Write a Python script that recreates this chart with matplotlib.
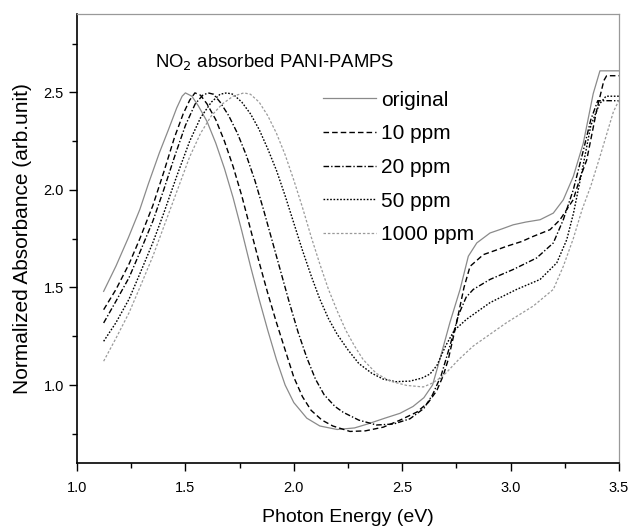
import matplotlib.pyplot as plt
from matplotlib.ticker import MultipleLocator

plt.rcParams['font.family'] = ['Liberation Sans', 'DejaVu Sans']

# photon energy (eV) / normalized absorbance
x_orig = [1.123, 1.18, 1.237, 1.29, 1.329, 1.38, 1.421, 1.46, 1.485, 1.50,
          1.53, 1.56, 1.60, 1.64, 1.68, 1.72, 1.76, 1.80, 1.84, 1.88,
          1.92, 1.96, 2.00, 2.06, 2.12, 2.2, 2.28, 2.34, 2.42, 2.49,
          2.55, 2.6, 2.64, 2.674, 2.72, 2.767, 2.805, 2.844, 2.905, 2.96,
          3.012, 3.07, 3.136, 3.197, 3.243, 3.289, 3.335, 3.381, 3.412, 3.5]
y_orig = [1.480, 1.610, 1.755, 1.900, 2.030, 2.190, 2.306, 2.420, 2.480, 2.497,
          2.480, 2.430, 2.350, 2.240, 2.110, 1.960, 1.790, 1.610, 1.440, 1.280,
          1.130, 1.000, 0.910, 0.830, 0.790, 0.772, 0.780, 0.800, 0.830, 0.855,
          0.890, 0.935, 1.000, 1.133, 1.320, 1.490, 1.660, 1.728, 1.779, 1.800,
          1.821, 1.835, 1.847, 1.881, 1.949, 2.068, 2.238, 2.493, 2.610, 2.610]

x_10 = [1.123, 1.18, 1.24, 1.29, 1.35, 1.40, 1.45, 1.49, 1.52, 1.544,
        1.57, 1.60, 1.64, 1.68, 1.72, 1.76, 1.80, 1.84, 1.88, 1.92,
        1.96, 2.00, 2.04, 2.08, 2.13, 2.18, 2.259, 2.33, 2.413, 2.49,
        2.567, 2.62, 2.659, 2.69, 2.713, 2.751, 2.785, 2.813, 2.874, 2.93,
        2.982, 3.05, 3.105, 3.182, 3.228, 3.289, 3.32, 3.351, 3.397, 3.43,
        3.443, 3.5]
y_10 = [1.386, 1.490, 1.620, 1.750, 1.920, 2.090, 2.270, 2.390, 2.460, 2.497,
        2.485, 2.440, 2.360, 2.250, 2.120, 1.970, 1.800, 1.630, 1.470, 1.320,
        1.180, 1.040, 0.940, 0.870, 0.820, 0.790, 0.762, 0.765, 0.784, 0.820,
        0.861, 0.910, 0.970, 1.050, 1.133, 1.320, 1.500, 1.608, 1.668, 1.690,
        1.711, 1.735, 1.762, 1.796, 1.847, 1.950, 2.060, 2.153, 2.408, 2.560,
        2.585, 2.585]

x_20 = [1.123, 1.18, 1.24, 1.29, 1.35, 1.40, 1.45, 1.50, 1.545, 1.58,
        1.605, 1.63, 1.66, 1.70, 1.74, 1.78, 1.82, 1.86, 1.90, 1.94,
        1.98, 2.02, 2.06, 2.10, 2.14, 2.19, 2.228, 2.30, 2.382, 2.46,
        2.536, 2.60, 2.64, 2.68, 2.72, 2.76, 2.795, 2.828, 2.905, 3.012,
        3.12, 3.197, 3.243, 3.289, 3.335, 3.37, 3.402, 3.5]
y_20 = [1.318, 1.430, 1.550, 1.680, 1.840, 2.000, 2.170, 2.330, 2.440, 2.485,
        2.497, 2.490, 2.450, 2.380, 2.290, 2.180, 2.050, 1.900, 1.740, 1.580,
        1.420, 1.270, 1.140, 1.030, 0.950, 0.890, 0.860, 0.820, 0.795, 0.800,
        0.827, 0.880, 0.950, 1.050, 1.200, 1.360, 1.450, 1.490, 1.541, 1.592,
        1.651, 1.728, 1.847, 2.000, 2.200, 2.360, 2.457, 2.457]

x_50 = [1.123, 1.18, 1.24, 1.29, 1.35, 1.40, 1.46, 1.52, 1.57, 1.62,
        1.66, 1.69, 1.72, 1.76, 1.80, 1.84, 1.88, 1.92, 1.96, 2.00,
        2.04, 2.08, 2.12, 2.16, 2.20, 2.25, 2.30, 2.36, 2.413, 2.47,
        2.536, 2.59, 2.628, 2.66, 2.70, 2.74, 2.797, 2.905, 3.028, 3.136,
        3.213, 3.259, 3.29, 3.33, 3.37, 3.41, 3.44, 3.5]
y_50 = [1.224, 1.320, 1.440, 1.570, 1.730, 1.880, 2.070, 2.250, 2.370, 2.450,
        2.490, 2.497, 2.490, 2.450, 2.390, 2.310, 2.210, 2.100, 1.970, 1.830,
        1.690, 1.560, 1.440, 1.340, 1.260, 1.180, 1.110, 1.060, 1.030, 1.017,
        1.020, 1.035, 1.056, 1.100, 1.200, 1.280, 1.337, 1.422, 1.490, 1.541,
        1.626, 1.745, 1.880, 2.100, 2.330, 2.440, 2.480, 2.480]

x_1000 = [1.123, 1.18, 1.24, 1.29, 1.35, 1.40, 1.46, 1.52, 1.57, 1.62,
          1.67, 1.72, 1.77, 1.80, 1.84, 1.88, 1.92, 1.96, 2.00, 2.04,
          2.08, 2.12, 2.16, 2.20, 2.24, 2.28, 2.32, 2.38, 2.444, 2.52,
          2.597, 2.64, 2.68, 2.705, 2.76, 2.828, 2.982, 3.105, 3.197, 3.243,
          3.289, 3.33, 3.37, 3.412, 3.474, 3.5]
y_1000 = [1.122, 1.240, 1.370, 1.500, 1.660, 1.810, 1.990, 2.170, 2.290, 2.380,
          2.440, 2.480, 2.497, 2.490, 2.450, 2.380, 2.290, 2.180, 2.050, 1.910,
          1.760, 1.620, 1.490, 1.380, 1.280, 1.200, 1.130, 1.060, 1.020, 0.998,
          0.990, 1.010, 1.040, 1.065, 1.130, 1.200, 1.320, 1.405, 1.490, 1.608,
          1.750, 1.900, 2.020, 2.170, 2.400, 2.460]

labels = ["original", "10 ppm", "20 ppm", "50 ppm", "1000 ppm"]

fig = plt.figure(figsize=(6.31, 5.28), dpi=100)
ax = fig.add_axes([0.122, 0.123, 0.859, 0.850])

ax.plot(x_orig, y_orig, color="#8a8a8a", lw=0.9, ls="-", label=labels[0])
ax.plot(x_10, y_10, color="black", lw=1.0, ls=(0, (4, 2.2)), label=labels[1])
ax.plot(x_20, y_20, color="black", lw=1.0, ls=(0, (4, 1.5, 1, 1.5)), label=labels[2])
ax.plot(x_50, y_50, color="black", lw=1.0, ls=(0, (1.2, 1.2)), label=labels[3])
ax.plot(x_1000, y_1000, color="#9a9a9a", lw=0.9, ls=(0, (2, 1.5)), label=labels[4])

ax.set_xlim(1.0, 3.5)
ax.set_ylim(0.6, 2.9)
ax.xaxis.set_major_locator(MultipleLocator(0.5))
ax.xaxis.set_minor_locator(MultipleLocator(0.25))
ax.set_yticks([1.0, 1.5, 2.0, 2.5])
ax.set_yticks([0.75, 1.25, 1.75, 2.25, 2.75], minor=True)
ax.tick_params(which="major", direction="out", length=6, width=1.0, labelsize=10.5)
ax.tick_params(axis="x", which="major", pad=7)
ax.tick_params(which="minor", direction="out", length=3.5, width=1.0)
ax.tick_params(top=False, right=False)

for side in ("left", "bottom"):
    ax.spines[side].set_linewidth(1.2)
for side in ("top", "right"):
    ax.spines[side].set_color("#999999")
    ax.spines[side].set_linewidth(0.9)

ax.set_xlabel("Photon Energy (eV)", fontsize=14, labelpad=10)
ax.set_ylabel("Normalized Absorbance (arb.unit)", fontsize=15, labelpad=8)

ax.text(0.144, 0.893, "NO$_2$ absorbed PANI-PAMPS", transform=ax.transAxes,
        fontsize=13.3, va="center", ha="left")

ax.legend(loc="upper left", bbox_to_anchor=(0.427, 0.862), frameon=False,
          fontsize=15, handlelength=2.55, handletextpad=0.24, labelspacing=0.70,
          borderpad=0.2)

fig.savefig("out.png", dpi=100)
